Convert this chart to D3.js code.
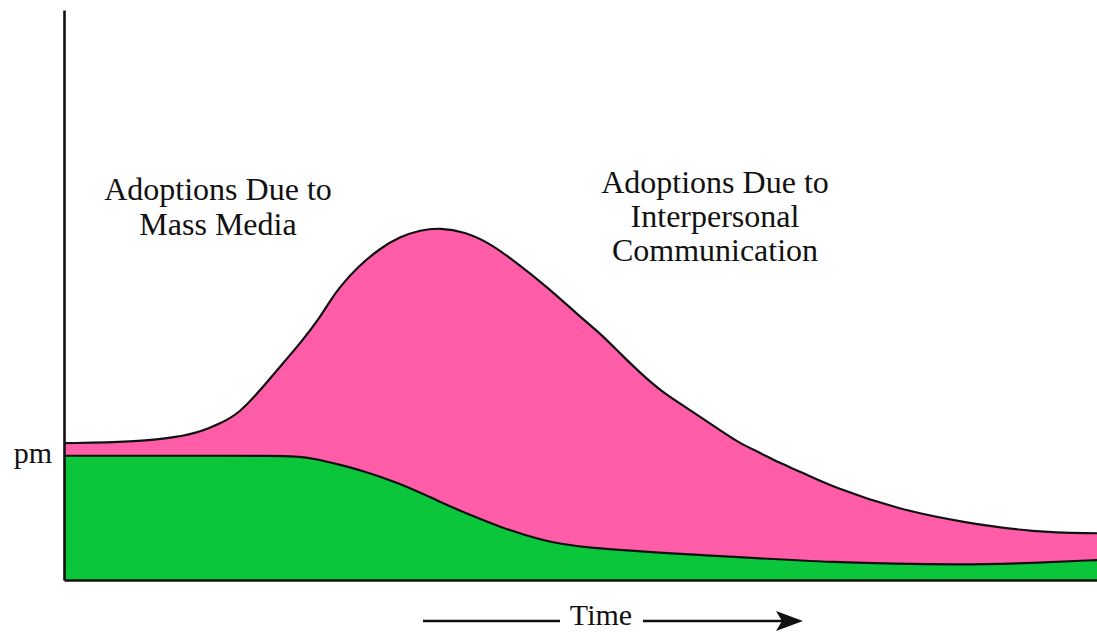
<!DOCTYPE html>
<html><head><meta charset="utf-8">
<script src="https://cdn.jsdelivr.net/npm/d3@7"></script>
<style>body{margin:0;background:#fff}svg{display:block}text{font-family:"Liberation Serif","Times New Roman",serif;fill:#111}</style>
</head><body><svg id="c" width="1097" height="634"></svg>
<script>
// Time (arbitrary units, 0-100)
const totalTime = [0, 6.7, 11.2, 13.2, 15.1, 17.0, 19.0, 20.9, 22.9, 24.8, 25.8, 26.7, 28.4, 30.6, 32.5, 34.5, 36.4, 38.8, 41.2, 43.5, 46.8, 50.0, 51.9, 53.8, 55.8, 57.7, 59.6, 61.6, 63.5, 65.4, 67.4, 69.3, 71.3, 74.4, 80.9, 87.4, 93.8, 100];
// Total adoptions (mass media + interpersonal)
const totalAdoptions = [24.0, 24.2, 25.1, 26.0, 27.4, 29.3, 33.3, 37.4, 41.6, 46.1, 49.1, 51.4, 54.9, 58.2, 60.2, 61.4, 61.8, 61.1, 59.1, 56.1, 51.4, 46.1, 43.3, 39.8, 36.3, 33.3, 31.0, 28.6, 26.3, 24.0, 22.3, 20.5, 19.0, 16.3, 12.3, 10.0, 8.4, 8.2];
const mediaTime = [0, 5, 10, 15, 20, 22.5, 24.5, 26.5, 28.7, 32.5, 36.4, 39.3, 42.2, 46.1, 50, 61.6, 74.4, 87.4, 93.8, 100];
// Adoptions due to mass media
const mediaAdoptions = [21.8, 21.8, 21.8, 21.8, 21.8, 21.7, 21.2, 20.3, 19.3, 17.0, 13.7, 11.4, 9.3, 7.0, 5.6, 4.4, 3.0, 2.6, 3.0, 3.5];
const pmValue = 21.8;
const labels = {
  media: ["Adoptions Due to", "Mass Media"],
  inter: ["Adoptions Due to", "Interpersonal", "Communication"],
  pm: "pm",
  time: "Time"
};

const svg = d3.select("#c");
const x = d3.scaleLinear().domain([0, 100]).range([64, 1097]);
const y = d3.scaleLinear().domain([0, 100]).range([580, 10]);

const totalData = totalTime.map((t, i) => ({t, v: totalAdoptions[i]}));
const mediaData = mediaTime.map((t, i) => ({t, v: mediaAdoptions[i]}));

const curve = d3.curveBasis;
const area = d3.area().x(d => x(d.t)).y0(y(0)).y1(d => y(d.v)).curve(curve);
const line = d3.line().x(d => x(d.t)).y(d => y(d.v)).curve(curve);

svg.append("path").datum(totalData).attr("d", area).attr("fill", "#FF5DA8");
svg.append("path").datum(mediaData).attr("d", area).attr("fill", "#0BC63A");
svg.append("path").datum(totalData).attr("d", line).attr("fill", "none").attr("stroke", "#111").attr("stroke-width", 2.2);
svg.append("path").datum(mediaData).attr("d", line).attr("fill", "none").attr("stroke", "#111").attr("stroke-width", 2.2);

// axes (no ticks)
const yAxis = d3.axisLeft(y).tickValues([]).tickSizeOuter(0);
const xAxis = d3.axisBottom(x).tickValues([]).tickSizeOuter(0);
svg.append("g").attr("transform", `translate(${x(0)},0)`).call(yAxis);
svg.append("g").attr("transform", `translate(0,${y(0)})`).call(xAxis);
svg.selectAll(".domain").attr("stroke", "#111").attr("stroke-width", 2.6);

// pm label
svg.append("text").attr("x", x(0) - 12).attr("y", y(pmValue) + 7).attr("text-anchor", "end")
  .attr("font-size", 30).text(labels.pm);

// annotations
const t1 = svg.append("text").attr("text-anchor", "middle").attr("font-size", 32);
labels.media.forEach((s, i) => t1.append("tspan").attr("x", 218).attr("y", 200 + i * 35).text(s));
const t2 = svg.append("text").attr("text-anchor", "middle").attr("font-size", 32);
labels.inter.forEach((s, i) => t2.append("tspan").attr("x", 715).attr("y", 193 + i * 34).text(s));

// Time arrow
svg.append("text").attr("x", 601).attr("y", 625).attr("text-anchor", "middle").attr("font-size", 30).text(labels.time);
svg.append("line").attr("x1", 423).attr("x2", 560).attr("y1", 621).attr("y2", 621).attr("stroke", "#111").attr("stroke-width", 2.5);
svg.append("line").attr("x1", 643).attr("x2", 785).attr("y1", 621).attr("y2", 621).attr("stroke", "#111").attr("stroke-width", 2.5);
svg.append("path").attr("d", "M776,611 L803,621 L776,631 L782,621 Z").attr("fill", "#111");
</script></body></html>
